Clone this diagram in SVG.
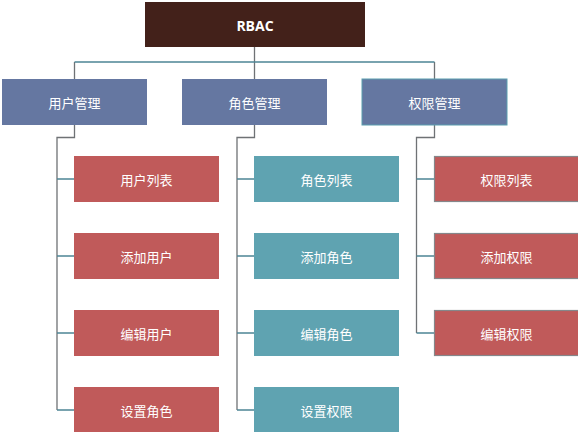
<svg xmlns="http://www.w3.org/2000/svg" width="578" height="432" viewBox="0 0 578 432">
<style>
text{font-family:"Noto Sans CJK SC","Noto Sans",sans-serif;font-size:13px;fill:#fff;text-anchor:middle;dominant-baseline:central}
.root{fill:#43211a}
.l1{fill:#6577a1}
.red{fill:#c05a5a}
.teal{fill:#5fa3b1}
.v{stroke:#6f7275;stroke-width:1.3;fill:none}
.h{stroke:#4d8595;stroke-width:1.3;fill:none}
</style>
<rect width="578" height="432" fill="#fff"/>
<g id="connectors">
<path class="v" d="M254.5 47V62M74.5 62V79M254.5 62V79M434.5 62V79"/>
<path class="h" d="M74.5 62H434.5"/>
<path class="v" d="M74.5 125V137.5H57V410M254.5 125V137.5H237V410M434.5 125V137.5H416.5V333"/>
<path class="h" d="M57 179H74M57 256H74M57 333H74M57 410H74M237 179H254M237 256H254M237 333H254M237 410H254M416.5 179H434M416.5 256H434M416.5 333H434"/>
</g>
<g id="rbac"><rect class="root" x="145" y="2" width="220" height="45"/><text x="255" y="25" style="font-weight:bold;font-size:14px;font-family:'Open Sans','Noto Sans',sans-serif">RBAC</text></g>
<g id="user-mgmt"><rect class="l1" x="2" y="79" width="145" height="46"/><text x="74.5" y="102">用户管理</text></g>
<g id="role-mgmt"><rect class="l1" x="182" y="79" width="145" height="46"/><text x="254.5" y="102">角色管理</text></g>
<g id="perm-mgmt"><rect class="l1" x="362" y="79" width="145" height="46" stroke="#5b9eae" stroke-width="1"/><text x="434.5" y="102">权限管理</text></g>
<g id="user-list"><rect class="red" x="74" y="156" width="145" height="46"/><text x="146.5" y="179">用户列表</text></g>
<g id="user-add"><rect class="red" x="74" y="233" width="145" height="46"/><text x="146.5" y="256">添加用户</text></g>
<g id="user-edit"><rect class="red" x="74" y="310" width="145" height="46"/><text x="146.5" y="333">编辑用户</text></g>
<g id="user-role"><rect class="red" x="74" y="387" width="145" height="46"/><text x="146.5" y="410">设置角色</text></g>
<g id="role-list"><rect class="teal" x="254" y="156" width="145" height="46"/><text x="326.5" y="179">角色列表</text></g>
<g id="role-add"><rect class="teal" x="254" y="233" width="145" height="46"/><text x="326.5" y="256">添加角色</text></g>
<g id="role-edit"><rect class="teal" x="254" y="310" width="145" height="46"/><text x="326.5" y="333">编辑角色</text></g>
<g id="role-perm"><rect class="teal" x="254" y="387" width="145" height="46"/><text x="326.5" y="410">设置权限</text></g>
<g id="perm-list"><rect class="red" x="434.5" y="156.5" width="145" height="45" stroke="#85878a" stroke-width="1.2"/><text x="506.5" y="179">权限列表</text></g>
<g id="perm-add"><rect class="red" x="434.5" y="233.5" width="145" height="45" stroke="#85878a" stroke-width="1.2"/><text x="506.5" y="256">添加权限</text></g>
<g id="perm-edit"><rect class="red" x="434.5" y="310.5" width="145" height="45" stroke="#85878a" stroke-width="1.2"/><text x="506.5" y="333">编辑权限</text></g>
</svg>
